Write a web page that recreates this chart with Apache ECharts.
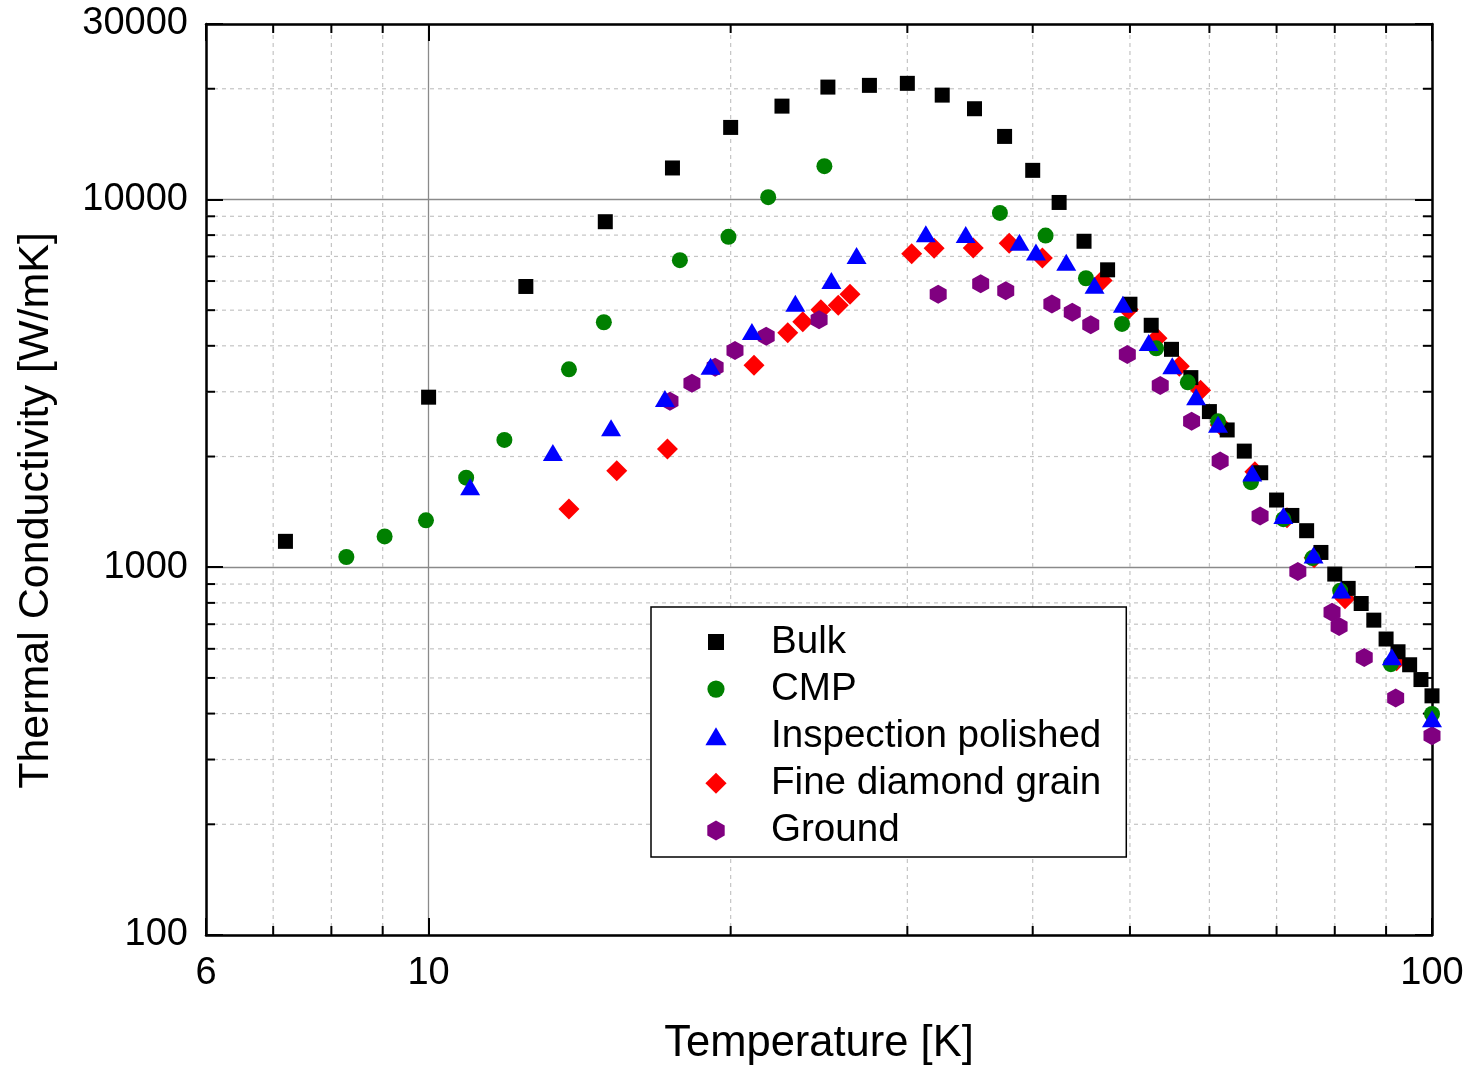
<!DOCTYPE html>
<html><head><meta charset="utf-8">
<script src="https://cdn.jsdelivr.net/npm/echarts@6/dist/echarts.min.js"></script>
<style>html,body{margin:0;padding:0;background:#fff}#c{width:1472px;height:1065px}</style>
</head><body><div id="c"></div>
<script>
// ---- data ----
const bulkT = [7.2, 10, 12.5, 15, 17.5, 20, 22.5, 25, 27.5, 30, 32.5, 35, 37.5, 40, 42.5, 45, 47.5, 50, 52.5, 55, 57.5, 60, 62.5, 65, 67.5, 70, 72.5, 75, 77.5, 80, 82.5, 85, 87.5, 90, 92.5, 95, 97.5, 100];
const bulkK = [1176, 2900, 5800, 8700, 12180, 15700, 17940, 20210, 20430, 20690, 19220, 17650, 14840, 12000, 9814, 7698, 6437, 5190, 4549, 3913, 3278, 2650, 2362, 2069, 1807, 1523, 1383, 1257, 1097, 958, 876, 797, 718, 638, 589, 543, 495, 447];
const cmpT = [8.28, 9.04, 9.94, 10.9, 11.9, 13.8, 14.95, 17.8, 19.9, 21.8, 24.8, 37.1, 41.2, 45.2, 49.1, 53.1, 57.1, 61.2, 66.0, 71.1, 76.0, 81.0, 91.0, 100];
const cmpK = [1066, 1213, 1341, 1752, 2219, 3453, 4636, 6837, 7913, 10145, 12320, 9190, 7978, 6107, 4589, 3938, 3183, 2493, 1703, 1351, 1059, 863, 545, 399];
const inspT = [11.0, 13.3, 15.2, 17.2, 19.1, 21.0, 23.2, 25.2, 26.7, 31.3, 34.3, 38.8, 40.3, 43.2, 46.1, 49.2, 52.2, 55.1, 58.2, 61.2, 66.2, 71.1, 76.2, 81.2, 91.2, 100];
const inspK = [1656, 2050, 2396, 2874, 3519, 4374, 5222, 6020, 7041, 8064, 8029, 7645, 7197, 6748, 5847, 5190, 4082, 3528, 2906, 2447, 1805, 1383, 1079, 867, 571, 387];
const fineT = [13.8, 15.4, 17.3, 21.1, 22.8, 23.6, 24.6, 25.6, 26.3, 30.3, 31.9, 34.9, 37.9, 40.9, 46.9, 49.8, 53.2, 56.0, 58.8, 61.5, 66.6, 71.7, 76.3, 81.9, 92.2];
const fineK = [1440, 1831, 2097, 3541, 4338, 4648, 5010, 5157, 5526, 7116, 7370, 7379, 7603, 6932, 6020, 5020, 4193, 3519, 3028, 2437, 1819, 1364, 1061, 821, 557];
const groundT = [17.4, 18.3, 19.3, 20.2, 21.7, 24.5, 32.2, 35.5, 37.6, 41.8, 43.8, 45.7, 49.7, 53.6, 57.6, 61.5, 67.4, 73.5, 79.5, 80.8, 85.6, 92.0, 100];
const groundK = [2829, 3163, 3497, 3882, 4246, 4707, 5526, 5902, 5648, 5196, 4935, 4561, 3786, 3118, 2493, 1945, 1379, 974, 754, 690, 568, 441, 348];
const seriesNames = ['Bulk', 'CMP', 'Inspection polished', 'Fine diamond grain', 'Ground'];
const xMin = 6, xMax = 100, yMin = 100, yMax = 30000;
const xMinorTicks = [7, 8, 9, 20, 30, 40, 50, 60, 70, 80, 90];
const yMinorTicks = [200, 300, 400, 500, 600, 700, 800, 900, 2000, 3000, 4000, 5000, 6000, 7000, 8000, 9000, 20000];

// ---- chart ----
const FONT = "'Liberation Sans', Arial, Helvetica, sans-serif";
const zip = (a, b) => a.map((v, i) => [v, b[i]]);
const hexagon = 'path://M0,-10 L8.66,-5 L8.66,5 L0,10 L-8.66,5 L-8.66,-5 Z';
// legend icons drawn inside a fixed 22x22 frame so each keeps its own size
const FRAME = 'M-11,-11 M11,11 ';
const legendIcons = {
  'Bulk': 'path://' + FRAME + 'M-8,-8 L8,-8 L8,8 L-8,8 Z',
  'CMP': 'path://' + FRAME + 'M-8.6,0 A8.6,8.6 0 1,0 8.6,0 A8.6,8.6 0 1,0 -8.6,0 Z',
  'Inspection polished': 'path://' + FRAME + 'M0,-9 L10.6,9 L-10.6,9 Z',
  'Fine diamond grain': 'path://' + FRAME + 'M0,-10.5 L10.6,0 L0,10.5 L-10.6,0 Z',
  'Ground': 'path://' + FRAME + 'M0,-10 L8.7,-5 L8.7,5 L0,10 L-8.7,5 L-8.7,-5 Z'
};
const chart = echarts.init(document.getElementById('c'), null, {renderer: 'canvas'});

const axisLineStyle = {show: true, lineStyle: {color: '#000', width: 2.5}};
const majorTick = {show: true, inside: true, length: 17, lineStyle: {color: '#000', width: 2}};
const labelFmt = v => String(Math.round(v));
const gridDash = {stroke: '#c4c4c4', lineDash: [4, 4], lineWidth: 1.2};
const tickStyle = {stroke: '#000', lineWidth: 2};
const MINOR = 9;

function scatter(name, T, K, symbol, size, color) {
  return {
    name, type: 'scatter', data: zip(T, K), symbol, symbolSize: size,
    itemStyle: {color, opacity: 1}, z: 3, animation: false
  };
}

chart.setOption({
  animation: false,
  backgroundColor: '#fff',
  textStyle: {fontFamily: FONT},
  grid: {left: 206, right: 40, top: 24, bottom: 130, containLabel: false, outerBoundsMode: 'none'},
  legend: {
    data: seriesNames.map(n => ({name: n, icon: legendIcons[n]})),
    orient: 'vertical', left: 651, top: 607,
    itemWidth: 22, itemHeight: 22, itemGap: 8.1, symbolKeepAspect: true,
    padding: [15.5, 25, 7, 54],
    backgroundColor: '#fff', borderColor: '#000', borderWidth: 1.5,
    textStyle: {fontSize: 38.6, color: '#000', fontFamily: FONT, lineHeight: 38, padding: [0, 0, 0, 39]},
    selectedMode: false
  },
  xAxis: [{
    type: 'log', logBase: 10, min: xMin, max: xMax, position: 'bottom',
    axisLine: axisLineStyle, axisTick: majorTick,
    axisLabel: {fontSize: 38, color: '#000', margin: 20, formatter: labelFmt, fontFamily: FONT},
    splitLine: {show: true, lineStyle: {color: '#8a8a8a', width: 1.3}},
    name: 'Temperature [K]', nameLocation: 'middle', nameGap: 87,
    nameTextStyle: {fontSize: 43.5, color: '#000', fontFamily: FONT}
  }, {
    type: 'log', logBase: 10, min: xMin, max: xMax, position: 'top',
    axisLine: axisLineStyle, axisTick: majorTick, axisLabel: {show: false}, splitLine: {show: false}
  }],
  yAxis: [{
    type: 'log', logBase: 10, min: yMin, max: yMax, position: 'left',
    axisLine: axisLineStyle, axisTick: majorTick,
    axisLabel: {fontSize: 38, color: '#000', margin: 18, formatter: labelFmt, fontFamily: FONT},
    splitLine: {show: true, lineStyle: {color: '#8a8a8a', width: 1.3}},
    name: 'Thermal Conductivity [W/mK]', nameLocation: 'middle', nameGap: 148,
    nameTextStyle: {fontSize: 43, color: '#000', fontFamily: FONT, padding: [0, 62, 0, 0]}
  }, {
    type: 'log', logBase: 10, min: yMin, max: yMax, position: 'right',
    axisLine: axisLineStyle, axisTick: majorTick, axisLabel: {show: false}, splitLine: {show: false}
  }],
  series: [
    {
      type: 'custom', xAxisIndex: 0, yAxisIndex: 0, z: 1, silent: true,
      data: xMinorTicks.map(v => [v, yMin]),
      renderItem(params, api) {
        const v = api.value(0);
        const b = api.coord([v, yMin]);
        const t = api.coord([v, yMax]);
        return {type: 'group', children: [
          {type: 'line', shape: {x1: b[0], y1: b[1], x2: t[0], y2: t[1]}, style: gridDash},
          {type: 'line', shape: {x1: b[0], y1: b[1], x2: b[0], y2: b[1] - MINOR}, style: tickStyle},
          {type: 'line', shape: {x1: t[0], y1: t[1], x2: t[0], y2: t[1] + MINOR}, style: tickStyle}
        ]};
      }
    },
    {
      type: 'custom', xAxisIndex: 0, yAxisIndex: 0, z: 1, silent: true,
      data: yMinorTicks.map(v => [xMin, v]),
      renderItem(params, api) {
        const v = api.value(1);
        const l = api.coord([xMin, v]);
        const r = api.coord([xMax, v]);
        return {type: 'group', children: [
          {type: 'line', shape: {x1: l[0], y1: l[1], x2: r[0], y2: r[1]}, style: gridDash},
          {type: 'line', shape: {x1: l[0], y1: l[1], x2: l[0] + MINOR, y2: l[1]}, style: tickStyle},
          {type: 'line', shape: {x1: r[0], y1: r[1], x2: r[0] - MINOR, y2: r[1]}, style: tickStyle}
        ]};
      }
    },
    scatter('Fine diamond grain', fineT, fineK, 'diamond', [21, 21], '#ff0000'),
    scatter('Ground', groundT, groundK, hexagon, [17, 19], '#800080'),
    scatter('Bulk', bulkT, bulkK, 'rect', 15, '#000000'),
    scatter('CMP', cmpT, cmpK, 'circle', 16, '#008000'),
    scatter('Inspection polished', inspT, inspK, 'triangle', [20, 17], '#0000ff')
  ]
});
</script>
</body></html>
